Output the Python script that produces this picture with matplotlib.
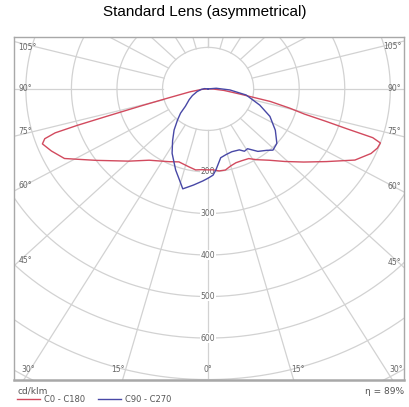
import numpy as np
import matplotlib.pyplot as plt

# luminous intensity distribution, gamma in degrees from nadir, values in cd/klm
c0_gamma = [0, 3, 7, 11, 15, 19, 23, 28, 32, 38, 44, 50, 56, 62, 66.5, 69, 71,
            72, 72.5, 73.2, 74, 75.5, 77.5, 80, 84, 88, 90]
c0_cd = [195, 195, 199, 199, 192, 188, 188, 190, 201, 218, 243, 274, 313, 365,
         390, 398, 400, 380, 320, 270, 220, 185, 140, 70, 35, 12, 0]

c180_gamma = [0, 4, 8, 13, 20, 26, 37, 45, 55, 62, 66.5, 70, 71.5, 72.5, 73,
              73.5, 74.5, 76, 80, 85, 90]
c180_cd = [195, 195, 197, 192, 187, 195, 215, 246, 300, 357, 375, 387, 378,
           352, 300, 230, 150, 90, 40, 15, 0]

c90_gamma = [0, 3, 5, 9.5, 14, 19, 25, 28, 31, 36, 41, 44, 49, 56, 64, 71, 80,
             87, 95, 100]
c90_cd = [215, 208, 196, 168, 163, 160, 162, 170, 168, 186, 196, 205, 200, 178,
          151, 120, 85, 48, 18, 0]

c270_gamma = [0, 3, 8, 13, 16, 20, 27, 32, 37, 42, 46, 50, 58, 65, 75, 85, 95,
              100]
c270_cd = [215, 222, 234, 247, 228, 208, 174, 147, 124, 100, 84, 65, 49, 38, 25,
           15, 8, 0]

ring_values = [100, 200, 300, 400, 500, 600, 700, 800, 900]
ring_labels = [200, 300, 400, 500, 600]
side_angles = [105, 90, 75, 60, 45]
bottom_angles = [30, 15, 0]

title = "Standard Lens (asymmetrical)"
unit = "cd/klm"
efficiency = "η = 89%"

grid_col = "#d2d2d2"
txt_col = "#666666"


def to_xy(gamma, cd, side):
    g = np.radians(gamma)
    cd = np.asarray(cd, dtype=float)
    return side * cd * np.sin(g), -cd * np.cos(g)


fig = plt.figure(figsize=(4.09, 4.07), dpi=100)
ax = fig.add_axes([14 / 409, 27 / 407, 390 / 409, 343 / 407])
xlim = (-426, 430)
ylim = (-701, 125)

# grid rings and radial lines
t = np.linspace(0, 2 * np.pi, 400)
for r in ring_values:
    ax.plot(r * np.sin(t), r * np.cos(t), color=grid_col, lw=0.9, zorder=1)
for a in range(-180, 181, 15):
    ar = np.radians(a)
    ax.plot([100 * np.sin(ar), 1500 * np.sin(ar)],
            [-100 * np.cos(ar), -1500 * np.cos(ar)],
            color=grid_col, lw=0.9, zorder=1)

for r in ring_labels:
    ax.text(0, -r, str(r), ha="center", va="center", fontsize=5.5,
            color=txt_col, zorder=2,
            bbox=dict(fc="white", ec="none", pad=0.3))

# curves
xl, yl = to_xy(c180_gamma, c180_cd, -1)
xr, yr = to_xy(c0_gamma, c0_cd, 1)
ax.plot(np.r_[xl[::-1], xr], np.r_[yl[::-1], yr], color="#d24a5e", lw=1.0,
        zorder=3, label="C0 - C180")
xl, yl = to_xy(c270_gamma, c270_cd, -1)
xr, yr = to_xy(c90_gamma, c90_cd, 1)
ax.plot(np.r_[xl[::-1], xr], np.r_[yl[::-1], yr], color="#4848a6", lw=1.0,
        zorder=4, label="C90 - C270")

# angle labels along the frame
for a in side_angles:
    ar = np.radians(a)
    if a < 90:
        va, dy = "bottom", 0.5
    elif a == 90:
        va, dy = "center", 0
    else:
        va, dy = "top", -1
    for xe, ha, dx in [(xlim[0], "left", 3), (xlim[1], "right", -2)]:
        ye = -abs(xe) / np.tan(ar)
        ax.annotate(f"{a}°", xy=(xe, ye), xytext=(dx, dy),
                    textcoords="offset points", ha=ha, va=va,
                    fontsize=5.5, color=txt_col, zorder=2)
for a in bottom_angles:
    xe = abs(ylim[0]) * np.tan(np.radians(a))
    for s in ([-1, 1] if a else [1]):
        if a == 30:
            dx = 3
        elif a == 15:
            dx = s * 3
        else:
            dx = 0
        ax.annotate(f"{a}°", xy=(s * xe, ylim[0]), xytext=(dx, 4),
                    textcoords="offset points", ha="center", va="bottom",
                    fontsize=5.5, color=txt_col, zorder=2)

ax.set_xlim(*xlim)
ax.set_ylim(*ylim)
ax.set_xticks([])
ax.set_yticks([])
for sp in ax.spines.values():
    sp.set_color("#a8a8a8")
    sp.set_linewidth(1.0)
ax.spines["bottom"].set_linewidth(1.8)

fig.text(205 / 409, 1 - 12 / 407, title, ha="center", va="center",
         fontsize=11, family="Liberation Sans")
fig.text(17 / 409, 1 - 391 / 407, unit, ha="left", va="center",
         fontsize=6.5, color="#555555")
fig.text(404 / 409, 1 - 391 / 407, efficiency, ha="right", va="center",
         fontsize=6.5, color="#555555")
ax.legend(loc="upper left", bbox_to_anchor=(17 / 409, 1 - 395 / 407),
          bbox_transform=fig.transFigure, ncol=2, frameon=False, fontsize=6,
          handlelength=2.8, handletextpad=0.4, columnspacing=1.6,
          borderpad=0, borderaxespad=0, labelcolor="#555555")

fig.savefig("out.png", dpi=100)
